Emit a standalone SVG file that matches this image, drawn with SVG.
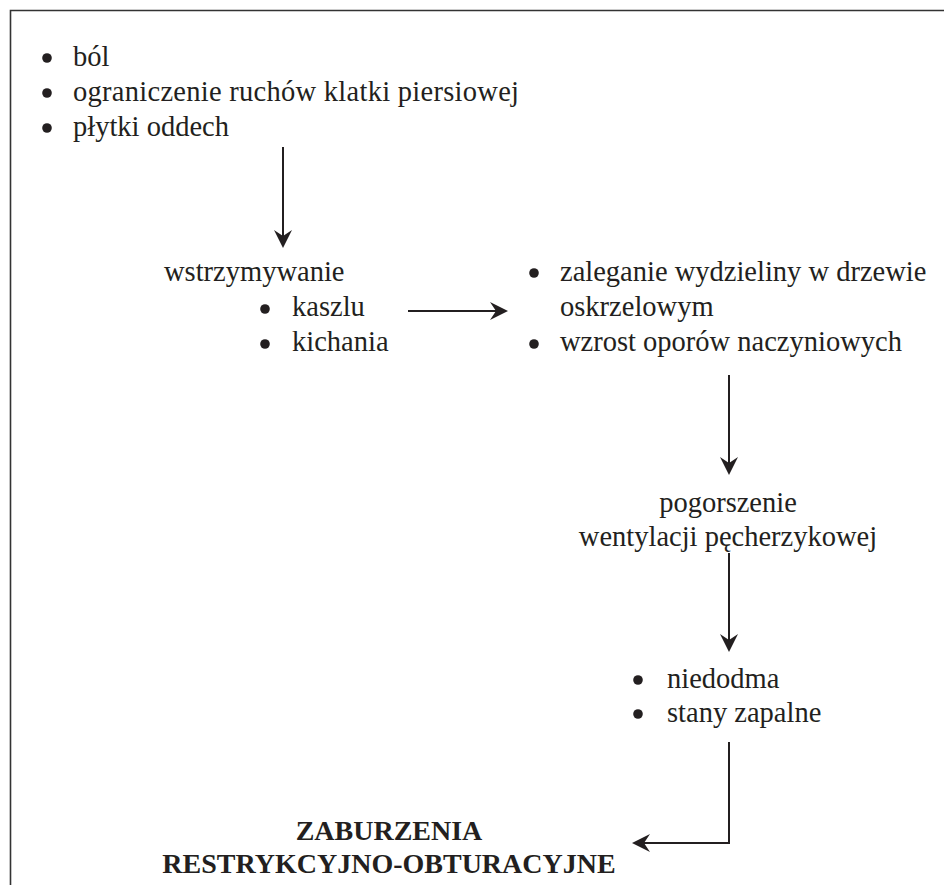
<svg xmlns="http://www.w3.org/2000/svg" width="944" height="885" viewBox="0 0 944 885">
<style>
  .t { font-family: 'Liberation Serif', 'Times New Roman', serif; font-size: 28.5px; fill: #231f20; }
  .b { font-family: 'Liberation Serif', 'Times New Roman', serif; font-size: 28px; font-weight: bold; fill: #231f20; }
  .dot { fill: #231f20; }
  .ln { stroke: #231f20; stroke-width: 2; fill: none; }
  .frame { stroke: #333; stroke-width: 1.6; fill: none; }
</style>
<defs>
  <marker id="ah" viewBox="-17 -10 20 20" refX="0" refY="0" markerWidth="20" markerHeight="20" orient="auto" markerUnits="userSpaceOnUse">
    <path d="M2,0 L-16,-9 L-10,0 L-16,9 Z" fill="#231f20"/>
  </marker>
</defs>
<rect width="944" height="885" fill="#fff"/>
<path class="frame" d="M10.5,885 V10.5 H944"/>

<g id="causes">
  <circle class="dot" cx="47" cy="58" r="4.8"/>
  <text class="t" x="73" y="66">ból</text>
  <circle class="dot" cx="47" cy="93" r="4.8"/>
  <text class="t" x="73" y="101" textLength="446" lengthAdjust="spacing">ograniczenie ruchów klatki piersiowej</text>
  <circle class="dot" cx="47" cy="128" r="4.8"/>
  <text class="t" x="73" y="136">płytki oddech</text>
</g>

<g id="suppression">
  <text class="t" x="164" y="281">wstrzymywanie</text>
  <circle class="dot" cx="265" cy="309" r="4.8"/>
  <text class="t" x="292" y="316">kaszlu</text>
  <circle class="dot" cx="265" cy="344" r="4.8"/>
  <text class="t" x="292" y="351">kichania</text>
</g>

<g id="effects">
  <circle class="dot" cx="534" cy="273" r="4.8"/>
  <text class="t" x="560" y="281">zaleganie wydzieliny w drzewie</text>
  <text class="t" x="560" y="316">oskrzelowym</text>
  <circle class="dot" cx="534" cy="344" r="4.8"/>
  <text class="t" x="560" y="351">wzrost oporów naczyniowych</text>
</g>

<g id="ventilation">
  <text class="t" x="728" y="512" text-anchor="middle">pogorszenie</text>
  <text class="t" x="728" y="546" text-anchor="middle">wentylacji pęcherzykowej</text>
</g>

<g id="complications">
  <circle class="dot" cx="638" cy="680" r="4.8"/>
  <text class="t" x="667" y="688">niedodma</text>
  <circle class="dot" cx="638" cy="714" r="4.8"/>
  <text class="t" x="667" y="722">stany zapalne</text>
</g>

<g id="result">
  <text class="b" x="389" y="840" text-anchor="middle">ZABURZENIA</text>
  <text class="b" x="389" y="873" text-anchor="middle">RESTRYKCYJNO-OBTURACYJNE</text>
</g>

<g id="connectors">
  <path class="ln" d="M283,147 V246" marker-end="url(#ah)"/>
  <path class="ln" d="M408,311 H506" marker-end="url(#ah)"/>
  <path class="ln" d="M729,375 V473" marker-end="url(#ah)"/>
  <path class="ln" d="M729,553 V650" marker-end="url(#ah)"/>
  <path class="ln" d="M729,742 V843 H634" marker-end="url(#ah)"/>
</g>
</svg>
